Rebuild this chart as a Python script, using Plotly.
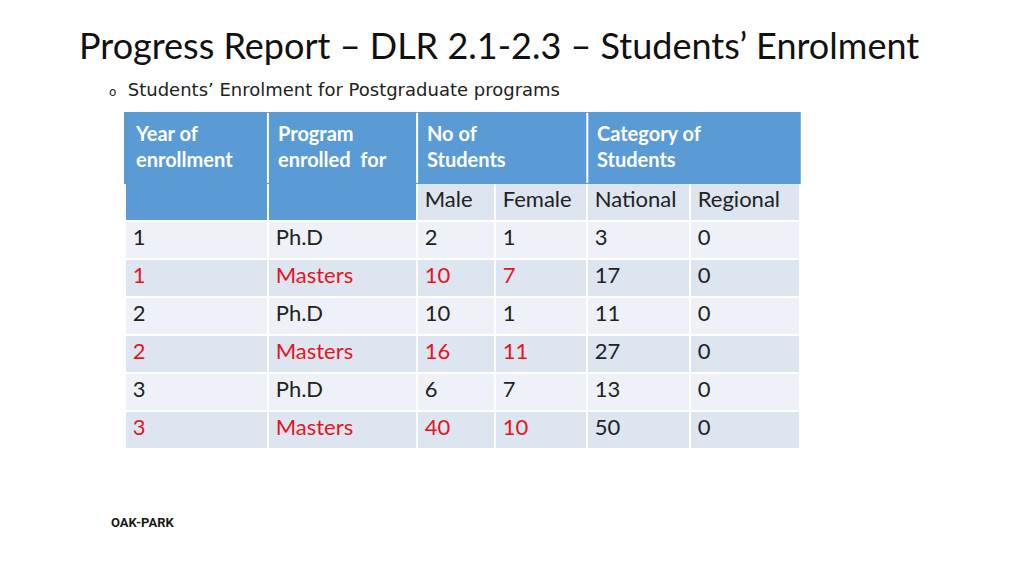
import plotly.graph_objects as go

header_labels = [("Year of<br>enrollment", 0), ("Program<br>enrolled  for", 1), ("No of<br>Students", 2), ("Category of<br>Students", 4)]
sub = ["", "", "Male", "Female", "National", "Regional"]
years = ["1", "1", "2", "2", "3", "3"]
programs = ["Ph.D", "Masters", "Ph.D", "Masters", "Ph.D", "Masters"]
male = [2, 10, 10, 16, 6, 40]
female = [1, 7, 1, 11, 7, 10]
national = [3, 17, 11, 27, 13, 50]
regional = [0, 0, 0, 0, 0, 0]
colw = [143, 149, 78, 92, 103, 110]

RED = "#e8141c"
DARK = "#222222"
BLUE = "#5b9bd5"
L1 = "#dde5f1"
L2 = "#eef2f8"

cols = [[s] + v for s, v in zip(sub, [years, programs, [str(x) for x in male], [str(x) for x in female],
                                       [str(x) for x in national], [str(x) for x in regional]])]
rowfill = [L1 if i % 2 == 0 else L2 for i in range(len(years) + 1)]
fills, fcolors = [], []
for c in range(6):
    f = list(rowfill)
    if c < 2:
        f[0] = BLUE
    fills.append(f)
    fc = [DARK] + [RED if (p == "Masters" and c < 4) else DARK for p in programs]
    fcolors.append(fc)

x0, x1 = 0.114, 0.774
ytop = 0.818
fig = go.Figure(go.Table(
    domain=dict(x=[x0, x1], y=[0.21, ytop]),
    columnwidth=colw,
    header=dict(values=[""] * 6, fill_color=BLUE, line=dict(color=BLUE, width=2), height=70),
    cells=dict(values=cols, fill_color=fills, line=dict(color="white", width=2),
               font=dict(family="Lato", size=22, color=fcolors), align="left", height=38),
))
tot = sum(colw)
def xat(ci):
    return x0 + (x1 - x0) * sum(colw[:ci]) / tot
ann, shapes = [], []
for text, ci in header_labels:
    ann.append(dict(text="<b>" + text + "</b>", x=xat(ci) + 8 / 1024, y=ytop - 6 / 576, xref="paper", yref="paper",
                    xanchor="left", yanchor="top", align="left", showarrow=False,
                    font=dict(family="Lato", size=20, color="white")))
for ci in (1, 2, 4):
    shapes.append(dict(type="line", xref="paper", yref="paper", x0=xat(ci), x1=xat(ci),
                       y0=ytop - 70 / 576, y1=ytop, line=dict(color="white", width=2)))
ann += [
    dict(text="Progress Report – DLR 2.1-2.3 – Students’ Enrolment", x=69/1024, y=1-37/576,
         xref="paper", yref="paper", xanchor="left", yanchor="middle", showarrow=False,
         font=dict(family="Lato", size=36, color="#111111")),
    dict(text="<span style='font-size:12px'>o</span>  Students’ Enrolment for Postgraduate programs",
         x=99/1024, y=1-81/576, xref="paper", yref="paper", xanchor="left", yanchor="middle",
         showarrow=False, font=dict(family="DejaVu Sans", size=18, color="#222222")),
    dict(text="<b>OAK-PARK</b>", x=101/1024, y=1-524/576, xref="paper", yref="paper",
         showarrow=False, font=dict(family="Roboto", size=13, color="#1a1a1a")),
]
fig.update_layout(width=1024, height=576, margin=dict(l=0, r=0, t=0, b=0),
                  paper_bgcolor="white", plot_bgcolor="white", annotations=ann, shapes=shapes)
fig.write_html("out.html")
